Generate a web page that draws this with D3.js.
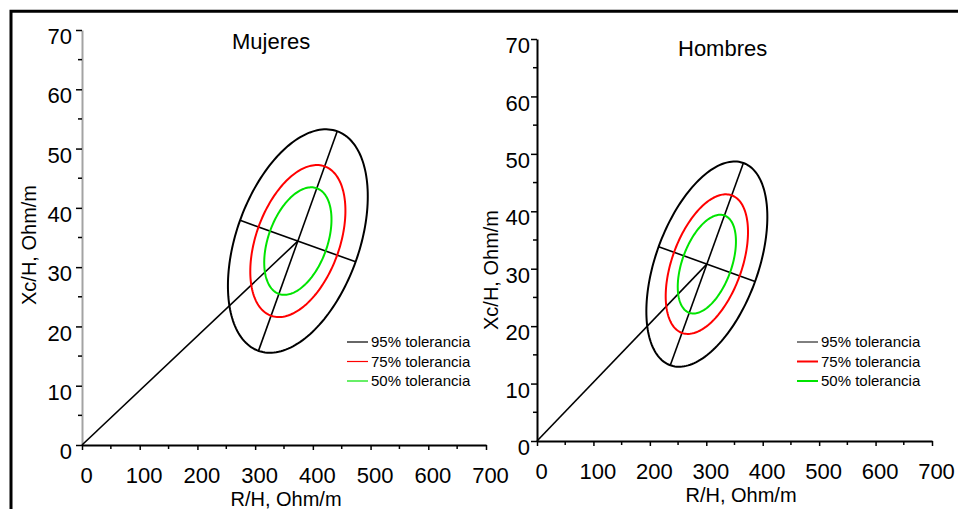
<!DOCTYPE html>
<html>
<head>
<meta charset="utf-8">
<script src="https://cdn.jsdelivr.net/npm/d3@7"></script>
<style>
  body { margin: 0; background: #fff; }
  svg { display: block; font-family: "Liberation Sans", Arial, sans-serif; }
</style>
</head>
<body>
<div id="chart"></div>
<script>
// bivariate reference values per group (R/H and Xc/H, Ohm/m)
const groups  = ["Mujeres", "Hombres"];
const meanR   = [374, 301];
const meanXc  = [34.4, 30.8];
const sdR     = [49.5, 43.8];
const sdXc    = [7.7, 7.3];
const corr    = [0.40, 0.46];

// tolerance ellipses
const tolerances = [0.95, 0.75, 0.50];
const tolLabels  = ["95% tolerancia", "75% tolerancia", "50% tolerancia"];
const tolColors  = ["#000000", "#ff0000", "#00e400"];

// axis ticks
const xTicks = [0, 100, 200, 300, 400, 500, 600, 700];
const xMinor = [50, 150, 250, 350, 450, 550, 650];
const yTicks = [0, 10, 20, 30, 40, 50, 60, 70];
const yMinor = [5, 15, 25, 35, 45, 55, 65];

const W = 958, H = 509;

// where each panel sits on the page
const layout = [
  { x0: 82,  x1: 486, y0: 445, y1: 30, yAxisColor: "#a3a3a3",
    title: [232, 49], yTitle: [36, 245], xTitle: [286, 506],
    legend: [347, 342], legendStroke: [1.2, 1.2, 1.2], yLabelGap: 10 },
  { x0: 537, x1: 932, y0: 441, y1: 39, yAxisColor: "#000",
    title: [678, 56], yTitle: [498, 270], xTitle: [741, 502],
    legend: [797, 342], legendStroke: [1, 2, 2], yLabelGap: 7 }
];

const svg = d3.select("#chart").append("svg")
    .attr("width", W).attr("height", H);

svg.append("rect").attr("width", W).attr("height", H).attr("fill", "#fff");

// frame (top and left only)
svg.append("path")
    .attr("d", `M${W},11.3H11V${H}`)
    .attr("fill", "none").attr("stroke", "#000").attr("stroke-width", 3);

function drawPanel(i) {
  const L = layout[i];
  const x = d3.scaleLinear().domain([0, 700]).range([L.x0, L.x1]);
  const y = d3.scaleLinear().domain([0, 70]).range([L.y0, L.y1]);
  const g = svg.append("g").attr("class", "panel");

  // y axis
  const yAxis = g.append("g").attr("transform", `translate(${L.x0},0)`)
      .call(d3.axisLeft(y).tickValues(yTicks).tickSize(6).tickSizeOuter(0));
  yAxis.select(".domain").attr("stroke", L.yAxisColor).attr("stroke-width", 2);
  yAxis.selectAll(".tick line").attr("stroke", "#000").attr("stroke-width", 1.5);
  yAxis.selectAll(".tick text")
      .attr("x", -L.yLabelGap).attr("dy", "0.62em")
      .attr("font-size", 22).attr("fill", "#000");
  g.append("g").selectAll("line").data(yMinor).join("line")
      .attr("x1", L.x0 - 4).attr("x2", L.x0)
      .attr("y1", d => y(d)).attr("y2", d => y(d))
      .attr("stroke", "#000").attr("stroke-width", 1.5);

  // x axis
  const xAxis = g.append("g").attr("transform", `translate(0,${L.y0})`)
      .call(d3.axisBottom(x).tickValues(xTicks).tickSize(5).tickSizeOuter(0));
  xAxis.select(".domain").attr("stroke", "#000").attr("stroke-width", 2);
  xAxis.selectAll(".tick line").attr("stroke", "#000").attr("stroke-width", 1.5);
  xAxis.selectAll(".tick text")
      .attr("y", 22).attr("dx", 4)
      .attr("font-size", 22).attr("fill", "#000");
  g.append("g").selectAll("line").data(xMinor).join("line")
      .attr("x1", d => x(d)).attr("x2", d => x(d))
      .attr("y1", L.y0).attr("y2", L.y0 + 4)
      .attr("stroke", "#000").attr("stroke-width", 1.5);

  // titles
  g.append("text").attr("x", L.title[0]).attr("y", L.title[1])
      .attr("font-size", 22).text(groups[i]);
  g.append("text").attr("x", L.xTitle[0]).attr("y", L.xTitle[1])
      .attr("text-anchor", "middle").attr("font-size", 20).text("R/H, Ohm/m");
  g.append("text")
      .attr("transform", `translate(${L.yTitle[0]},${L.yTitle[1]}) rotate(-90)`)
      .attr("text-anchor", "middle").attr("font-size", 20).text("Xc/H, Ohm/m");

  // ellipses: mean + sqrt(chi2_2(p)) * cholesky factor
  const r = corr[i];
  const ellipse = p => {
    const k = Math.sqrt(-2 * Math.log(1 - p));
    return d3.range(0, 361, 2).map(a => {
      const t = a * Math.PI / 180;
      const R = meanR[i] + k * sdR[i] * Math.cos(t);
      const X = meanXc[i] + k * sdXc[i] * (r * Math.cos(t) + Math.sqrt(1 - r * r) * Math.sin(t));
      return [x(R), y(X)];
    });
  };
  const line = d3.line().curve(d3.curveLinearClosed);

  // line from origin to the centre
  const cx = x(meanR[i]), cy = y(meanXc[i]);
  g.append("line")
      .attr("x1", x(0)).attr("y1", y(0)).attr("x2", cx).attr("y2", cy)
      .attr("stroke", "#000").attr("stroke-width", 1.6);

  // principal axes of the 95% ellipse, as seen on screen
  const k95 = Math.sqrt(-2 * Math.log(1 - tolerances[0]));
  const sx = k95 * sdR[i] * Math.abs(x(1) - x(0));
  const sy = k95 * sdXc[i] * Math.abs(y(1) - y(0));
  const a = sx * sx, d = sy * sy, b = -r * sx * sy; // screen y points down
  const tr = (a + d) / 2, disc = Math.sqrt(((a - d) / 2) ** 2 + b * b);
  [tr + disc, tr - disc].forEach(lam => {
    let vx = b, vy = lam - a;
    const n = Math.hypot(vx, vy);
    vx /= n; vy /= n;
    const s = Math.sqrt(lam);
    g.append("line")
        .attr("x1", cx - s * vx).attr("y1", cy - s * vy)
        .attr("x2", cx + s * vx).attr("y2", cy + s * vy)
        .attr("stroke", "#000").attr("stroke-width", 1.6);
  });

  g.append("g").selectAll("path").data(tolerances).join("path")
      .attr("d", p => line(ellipse(p)))
      .attr("fill", "none")
      .attr("stroke", (p, j) => tolColors[j])
      .attr("stroke-width", 2);

  // legend
  const lg = g.append("g").attr("transform", `translate(${L.legend[0]},${L.legend[1]})`);
  const rows = lg.selectAll("g").data(tolLabels).join("g")
      .attr("transform", (d, j) => `translate(0,${j * 19.5})`);
  rows.append("line").attr("x1", 0).attr("x2", 21)
      .attr("stroke", (d, j) => tolColors[j])
      .attr("stroke-width", (d, j) => L.legendStroke[j]);
  rows.append("text").attr("x", 24).attr("y", 5)
      .attr("font-size", 15).text(d => d);
}

groups.forEach((gname, i) => drawPanel(i));
</script>
</body>
</html>
